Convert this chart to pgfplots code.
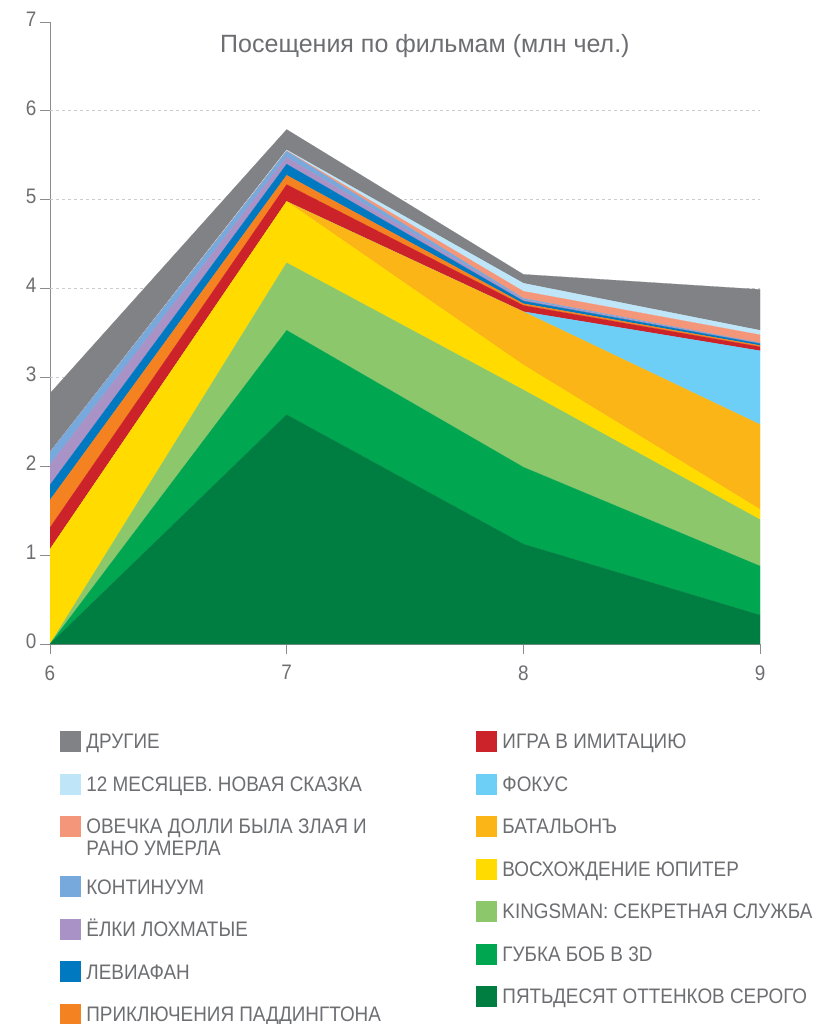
\documentclass[border=0pt]{standalone}
\usepackage{fontspec}
\setmainfont{Liberation Sans}
\newfontfamily\condfont[FakeStretch=0.9]{Liberation Sans}
\usepackage{pgfplots}
\usepackage{pgfplotstable}
\pgfplotsset{compat=1.18}

\definecolor{axgray}{HTML}{8A8C8F}
\definecolor{lblgray}{HTML}{6D6E71}
\definecolor{gridgray}{HTML}{CCCCCC}
\definecolor{cOth}{HTML}{808285}
\definecolor{cM12}{HTML}{BFE6F8}
\definecolor{cSal}{HTML}{F4967A}
\definecolor{cKon}{HTML}{78A9DC}
\definecolor{cPur}{HTML}{A993C6}
\definecolor{cBlu}{HTML}{0079C1}
\definecolor{cOra}{HTML}{F58220}
\definecolor{cRed}{HTML}{CC2229}
\definecolor{cFok}{HTML}{6DCFF6}
\definecolor{cAmb}{HTML}{FBB516}
\definecolor{cYel}{HTML}{FFDB00}
\definecolor{cLgr}{HTML}{8CC76C}
\definecolor{cGrn}{HTML}{00A650}
\definecolor{cDgr}{HTML}{007D40}

\pgfplotstableread{
x  dg     g      lg     yel    amb    fok   red    ora    blu    pur    kon    sal    mtw   oth
6  0      0      0      1.065  0      0     0.245  0.31   0.17   0.23   0.14   0      0     0.66
7  2.58   0.95   0.76   0.69   0      0     0.19   0.105  0.125  0.08   0.065  0.005  0.01  0.23
8  1.125  0.865  0.87   0.28   0.60   0     0.07   0.02   0.03   0.015  0.015  0.08   0.09  0.10
9  0.326  0.551  0.523  0.115  0.955  0.83  0.045  0.015  0.02   0.005  0.005  0.09   0.05  0.46
}\data

\pgfplotsset{
  legsq/.style={legend image code/.code={\fill[#1] (0pt,-2.4pt) rectangle (20pt,17.6pt);}},
  mylegend/.style={
    legend style={anchor=north west, draw=none, fill=none, inner sep=0pt, outer sep=0pt,
      row sep=19.7pt,
      cells={anchor=base west},
      nodes={inner sep=0pt, outer sep=0pt, text height=16pt, text depth=5pt,
        font=\condfont\fontsize{21}{22}\selectfont, text=lblgray},
      /tikz/every odd column/.append style={column sep=6pt}},
  },
  area/.style={fill=#1, draw=#1, line width=0.2pt, forget plot},
}

\begin{document}
\begin{tikzpicture}
\useasboundingbox (0pt,0pt) rectangle (836pt,-1024pt);
\begin{axis}[
  at={(50pt,-644pt)}, anchor=south west,
  scale only axis, width=710pt, height=622pt,
  xmin=6, xmax=9, ymin=0, ymax=7,
  axis x line=bottom, axis y line=left,
  axis line style={-, draw=axgray, line width=1pt},
  xtick={6,7,8,9}, ytick={0,1,2,3,4,5,6,7},
  tick align=outside, major tick length=10pt,
  tick style={axgray, line width=1pt},
  extra y ticks={1,2,3,4,5,6}, extra y tick labels={},
  extra y tick style={grid=major, major tick length=0pt},
  grid style={gridgray, dashed, line width=0.8pt},
  ticklabel style={font=\condfont\fontsize{21}{24}\selectfont, text=lblgray},
  /pgf/number format/assume math mode=true,
  yticklabel style={yshift=3pt},
  xticklabel style={yshift=-8pt},
  title={Посещения по фильмам (млн чел.)},
  title style={at={(0.528,0.952)}, anchor=center, font=\fontsize{25}{28}\selectfont, text=lblgray},
  stack plots=y,
  mylegend,
  legend style={at={(0.01408,-0.13987)}},
]
\addplot[area=cDgr] table[x=x,y=dg]{\data} \closedcycle;
\addplot[area=cGrn] table[x=x,y=g]{\data} \closedcycle;
\addplot[area=cLgr] table[x=x,y=lg]{\data} \closedcycle;
\addplot[area=cYel] table[x=x,y=yel]{\data} \closedcycle;
\addplot[area=cAmb] table[x=x,y=amb]{\data} \closedcycle;
\addplot[area=cFok] table[x=x,y=fok]{\data} \closedcycle;
\addplot[area=cRed] table[x=x,y=red]{\data} \closedcycle;
\addplot[area=cOra] table[x=x,y=ora]{\data} \closedcycle;
\addplot[area=cBlu] table[x=x,y=blu]{\data} \closedcycle;
\addplot[area=cPur] table[x=x,y=pur]{\data} \closedcycle;
\addplot[area=cKon] table[x=x,y=kon]{\data} \closedcycle;
\addplot[area=cSal] table[x=x,y=sal]{\data} \closedcycle;
\addplot[area=cM12] table[x=x,y=mtw]{\data} \closedcycle;
\addplot[area=cOth] table[x=x,y=oth]{\data} \closedcycle;

\addlegendimage{legsq=cOth}\addlegendentry{ДРУГИЕ}
\addlegendimage{legsq=cM12}\addlegendentry{12 МЕСЯЦЕВ. НОВАЯ СКАЗКА}
\addlegendimage{legsq=cSal}\addlegendentry[text depth=22.7pt]{\begin{tabular}[t]{@{}l@{}}ОВЕЧКА ДОЛЛИ БЫЛА ЗЛАЯ И\\РАНО УМЕРЛА\end{tabular}}
\addlegendimage{legsq=cKon}\addlegendentry{КОНТИНУУМ}
\addlegendimage{legsq=cPur}\addlegendentry{ЁЛКИ ЛОХМАТЫЕ}
\addlegendimage{legsq=cBlu}\addlegendentry{ЛЕВИАФАН}
\addlegendimage{legsq=cOra}\addlegendentry{ПРИКЛЮЧЕНИЯ ПАДДИНГТОНА}
\end{axis}

\begin{axis}[
  at={(50pt,-644pt)}, anchor=south west,
  scale only axis, width=710pt, height=622pt,
  xmin=0, xmax=1, ymin=0, ymax=1,
  hide axis,
  mylegend,
  legend style={at={(0.6,-0.13987)}},
]
\addlegendimage{legsq=cRed}\addlegendentry{ИГРА В ИМИТАЦИЮ}
\addlegendimage{legsq=cFok}\addlegendentry{ФОКУС}
\addlegendimage{legsq=cAmb}\addlegendentry{БАТАЛЬОНЪ}
\addlegendimage{legsq=cYel}\addlegendentry{ВОСХОЖДЕНИЕ ЮПИТЕР}
\addlegendimage{legsq=cLgr}\addlegendentry{KINGSMAN: СЕКРЕТНАЯ СЛУЖБА}
\addlegendimage{legsq=cGrn}\addlegendentry{ГУБКА БОБ В 3D}
\addlegendimage{legsq=cDgr}\addlegendentry{ПЯТЬДЕСЯТ ОТТЕНКОВ СЕРОГО}
\end{axis}
\end{tikzpicture}
\end{document}
